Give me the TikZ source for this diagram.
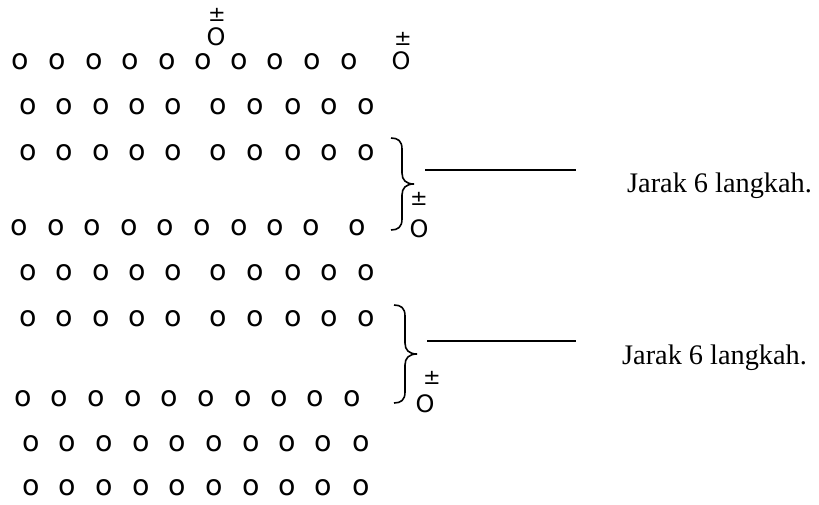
\documentclass[tikz,border=0pt]{standalone}
\usepackage{fontspec}
\setmainfont{Liberation Serif}
\newfontfamily\dvs{DejaVu Sans}
\begin{document}
\begin{tikzpicture}[x=1pt,y=-1pt,
  dot/.style={inner sep=0pt, font=\dvs\fontsize{28.5}{28.5}\selectfont},
  mk/.style={inner sep=0pt, font=\dvs\fontsize{24}{24}\selectfont},
  pm/.style={inner sep=0pt, font=\dvs\fontsize{21}{21}\selectfont},
  lbl/.style={inner sep=0pt, anchor=base west, font=\fontsize{28.3}{28.3}\selectfont},
  brc/.style={line width=1.6pt},
  rulestyle/.style={line width=1.5pt}]
\useasboundingbox (0,0) rectangle (819,504);
% rows of o
\foreach \x [count=\c] in {20,57,94,130,167,203,239,275,312,349}
  \node[dot] (r1-\c) at (\x,62) {o};
\foreach \r/\y in {2/107,3/153,5/273,6/319}
  \foreach \x [count=\c] in {28,64,101,137,173,218,255,293,329,366}
    \node[dot] (r\r-\c) at (\x,\y) {o};
\foreach \x [count=\c] in {19,56,92,129,165,202,239,275,311,357}
  \node[dot] (r4-\c) at (\x,228) {o};
\foreach \x [count=\c] in {23,59,96,133,169,206,243,279,315,352}
  \node[dot] (r7-\c) at (\x,399) {o};
\foreach \r/\y in {8/444,9/488}
  \foreach \x [count=\c] in {31,67,104,141,177,214,251,287,323,361}
    \node[dot] (r\r-\c) at (\x,\y) {o};
% markers
\node[mk] (m1) at (216,37) {O}; \node[pm] (p1) at (217,15) {±};
\node[mk] (m2) at (401,61) {O}; \node[pm] (p2) at (403,39) {±};
\node[mk] (m3) at (419,229) {O}; \node[pm] (p3) at (419,199) {±};
\node[mk] (m4) at (425,404) {O}; \node[pm] (p4) at (432,378) {±};
% braces
\coordinate (b1t) at (391,138); \coordinate (b1b) at (391,230); \coordinate (b1c) at (414,184);
\coordinate (b2t) at (394,305); \coordinate (b2b) at (394,403); \coordinate (b2c) at (417,354);
\draw[brc] (b1t) .. controls (398,138) and (402,141) .. (402,149) -- (402,173)
  .. controls (402,180) and (406,184) .. (b1c)
  .. controls (406,184) and (402,188) .. (402,195) -- (402,219)
  .. controls (402,227) and (398,230) .. (b1b);
\draw[brc] (b2t) .. controls (401,305) and (405,308) .. (405,316) -- (405,343)
  .. controls (405,350) and (409,354) .. (b2c)
  .. controls (409,354) and (405,358) .. (405,365) -- (405,392)
  .. controls (405,400) and (401,403) .. (b2b);
% lines
\coordinate (l1a) at (425,170); \coordinate (l1b) at (576,170);
\coordinate (l2a) at (427,341); \coordinate (l2b) at (576,341);
\draw[rulestyle] (l1a) -- (l1b);
\draw[rulestyle] (l2a) -- (l2b);
% labels
\node[lbl] (t1) at (627,192) {Jarak 6 langkah.};
\node[lbl] (t2) at (622,364) {Jarak 6 langkah.};
\end{tikzpicture}
\end{document}
